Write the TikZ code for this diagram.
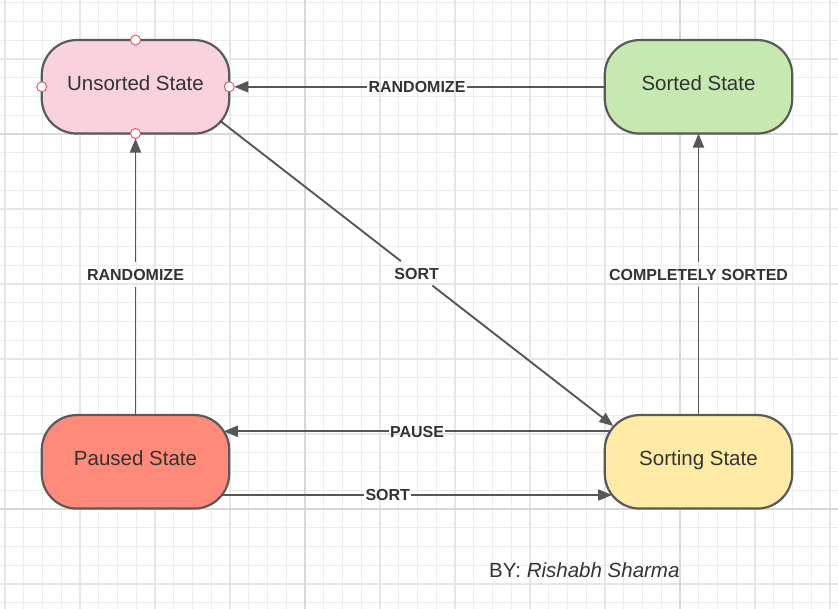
\documentclass[tikz,border=0pt]{standalone}
\usepackage{fontspec}
\setmainfont{Liberation Sans}
\usetikzlibrary{arrows.meta}
\definecolor{gminor}{HTML}{EDEDED}
\definecolor{gmed}{HTML}{E6E6E6}
\definecolor{gmajor}{HTML}{D8D8D8}
\definecolor{bord}{HTML}{5A5A5A}
\definecolor{lineclr}{HTML}{575757}
\definecolor{txt}{HTML}{333333}
\definecolor{cpred}{HTML}{E4505E}
\definecolor{fpink}{HTML}{F9D2DD}
\definecolor{fgreen}{HTML}{C6E9AF}
\definecolor{fsalmon}{HTML}{FF8A7A}
\definecolor{fyellow}{HTML}{FFEAA6}
\begin{document}
\begin{tikzpicture}[x=1pt,y=-1pt,
  state/.style={rectangle, rounded corners=35pt, draw=bord, line width=2.2pt,
    minimum width=187.5pt, minimum height=93.5pt,
    inner sep=0pt, outer sep=0pt, text=txt,
    font=\fontsize{20.5}{24}\selectfont, text height=14.7pt, text depth=6.6pt},
  lab/.style={font=\fontsize{16}{19}\bfseries\selectfont, text=txt,
    inner xsep=1.5pt, inner ysep=6.5pt, text height=11.5pt, text depth=0pt, outer sep=0pt},
  conn/.style={draw=lineclr, line width=1.9pt},
  arr/.style={conn, -{Triangle[length=14pt,width=11pt]}},
  cpt/.style={circle, draw=cpred, fill=white, line width=0.9pt,
    minimum size=10pt, inner sep=0pt, outer sep=0pt}]
\useasboundingbox (0,0) rectangle (838,609);
\fill[white] (0,0) rectangle (838,609);
\foreach \i in {0,...,44} \draw[gminor, line width=1pt] ({5+18.75*\i},0) -- ({5+18.75*\i},609);
\foreach \i in {0,...,32} \draw[gminor, line width=1pt] (0,{2.75+18.75*\i}) -- (838,{2.75+18.75*\i});
\foreach \i in {0,...,11} \draw[gmed, line width=1.3pt] ({5+75*\i},0) -- ({5+75*\i},609);
\foreach \i in {0,...,7} \draw[gmed, line width=1.3pt] (0,{59+75*\i}) -- (838,{59+75*\i});
\foreach \x in {305,680} \draw[gmajor, line width=1.6pt] (\x,0) -- (\x,609);
\foreach \y in {134,509} \draw[gmajor, line width=1.6pt] (0,\y) -- (838,\y);

\node[state, fill=fpink] (unsorted) at (135.5,86.8) {Unsorted State};
\node[state, fill=fgreen] (sorted) at (698.5,86.8) {Sorted State};
\node[state, fill=fsalmon] (paused) at (135.5,461.8) {Paused State};
\node[state, fill=fyellow] (sorting) at (698.5,461.8) {Sorting State};

\node[cpt] (cn) at (unsorted.north) {};
\node[cpt] (cw) at (unsorted.west) {};
\node[cpt] (ce) at (unsorted.east) {};
\node[cpt] (cs) at (unsorted.south) {};

% Sorted -> Unsorted
\path (sorted.west) -- node[lab] (l1) {RANDOMIZE} (unsorted.east);
\draw[conn] (sorted.west) -- (l1);
\draw[arr] (l1) -- (ce);

% Paused -> Unsorted
\path (paused.north) -- node[lab] (l2) {RANDOMIZE} (unsorted.south);
\draw[conn] (paused.north) -- (l2);
\draw[arr] (l2) -- (cs);

% Sorting -> Sorted
\path (sorting.north) -- node[lab] (l3) {COMPLETELY SORTED} (sorted.south);
\draw[conn] (sorting.north) -- (l3);
\draw[arr] (l3) -- (sorted.south);

% Unsorted -> Sorting
\coordinate (d1) at ([shift={(84.5,33.9)}]unsorted.center);
\coordinate (d2) at ([shift={(-85.2,-35.8)}]sorting.center);
\path (d1) -- node[lab] (l4) {SORT} (d2);
\draw[conn] (d1) -- (l4);
\draw[arr] (l4) -- (d2);

% Sorting -> Paused
\coordinate (p1) at ([shift={(5.5,-30.5)}]sorting.west);
\coordinate (p2) at ([shift={(-5.5,-30.5)}]paused.east);
\path (p1) -- node[lab] (l5) {PAUSE} (p2);
\draw[conn] (p1) -- (l5);
\draw[arr] (l5) -- (p2);

% Paused -> Sorting
\coordinate (s1) at ([shift={(-7.3,33.2)}]paused.east);
\coordinate (s2) at ([shift={(7.3,33.2)}]sorting.west);
\path (s1) -- node[lab, pos=0.425] (l6) {SORT} (s2);
\draw[conn] (s1) -- (l6);
\draw[arr] (l6) -- (s2);

\node[anchor=base west, inner sep=0pt, text=txt, font=\fontsize{20.5}{24}\selectfont] (by) at (489,577) {BY: \textit{Rishabh Sharma}};
\end{tikzpicture}
\end{document}
